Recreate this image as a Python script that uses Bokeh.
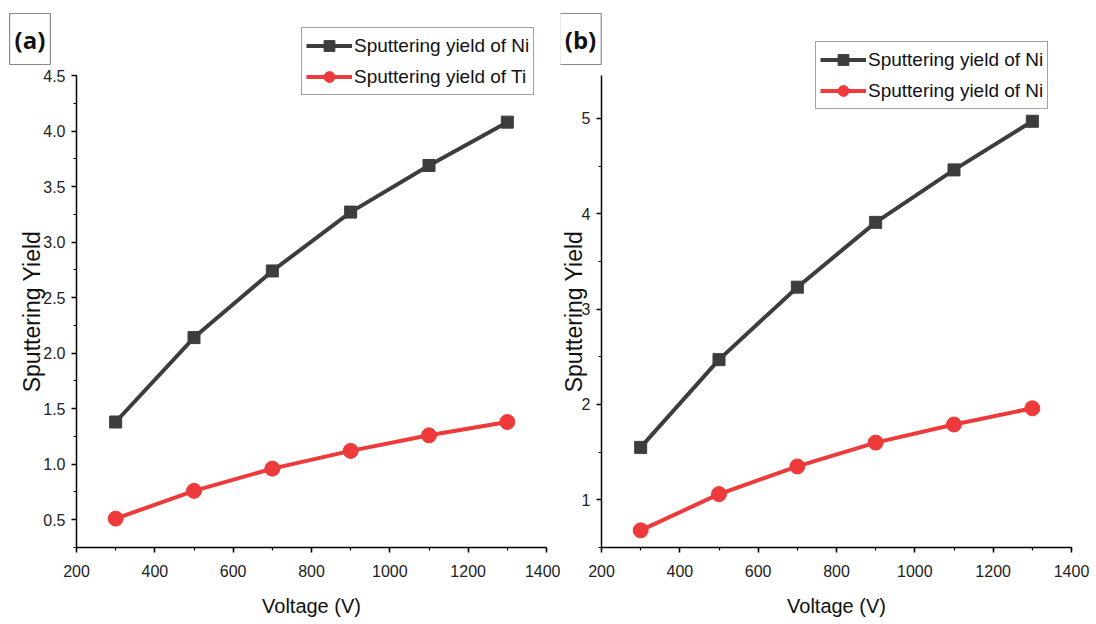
from bokeh.plotting import figure
from bokeh.layouts import row
from bokeh.models import (Range1d, SingleIntervalTicker, NumeralTickFormatter,
                          Legend, LegendItem, Label)
from bokeh.embed import file_html
from bokeh.resources import INLINE

# ---------------- data ----------------
voltage = [300, 500, 700, 900, 1100, 1300]
a_ni = [1.38, 2.14, 2.74, 3.27, 3.69, 4.08]
a_ti = [0.51, 0.76, 0.96, 1.12, 1.26, 1.38]
b_ni = [1.55, 2.47, 3.23, 3.91, 4.46, 4.97]
b_ni2 = [0.68, 1.06, 1.35, 1.60, 1.79, 1.96]
a_names = ["Sputtering yield of Ni", "Sputtering yield of Ti"]
b_names = ["Sputtering yield of Ni", "Sputtering yield of Ni"]
x_label = "Voltage (V)"
y_label = "Sputtering Yield"
x_axis_span = (200, 1400)
a_axis_span = (0.25, 4.5)
b_axis_span = (0.5, 5.45)

FONT = "Liberation Sans"
GRAY = "#3d3d3d"
RED = "#ee3a3a"
H = 624


def make_panel(width, frame_left, frame_right, frame_top, frame_bottom,
               yspan, y_interval, y_fmt, s1, s2, names, tag, tag_xy, leg_xy,
               ylab_standoff, ytick_standoff):
    # map so that the axis spans sit at the wanted pixel positions; frame = whole canvas
    x0, x1 = x_axis_span
    kx = (x1 - x0) / (frame_right - frame_left)
    xs = x0 - frame_left * kx
    xe = x1 + (width - frame_right) * kx
    y0, y1 = yspan
    ky = (y1 - y0) / (frame_bottom - frame_top)
    ys = y0 - (H - frame_bottom) * ky
    ye = y1 + frame_top * ky

    p = figure(width=width, height=H, output_backend="svg", toolbar_location=None,
               x_range=Range1d(xs, xe), y_range=Range1d(ys, ye),
               min_border_left=0, min_border_right=0,
               min_border_top=0, min_border_bottom=0)
    p.outline_line_color = None
    p.xgrid.visible = False
    p.ygrid.visible = False
    p.background_fill_color = "white"
    p.border_fill_color = "white"

    for ax in (p.xaxis[0], p.yaxis[0]):
        ax.axis_line_color = "black"
        ax.axis_line_width = 1.5
        ax.major_tick_line_color = "black"
        ax.major_tick_line_width = 1.5
        ax.minor_tick_line_color = "black"
        ax.minor_tick_line_width = 1.2
        ax.major_tick_in = 0
        ax.major_tick_out = 5
        ax.minor_tick_in = 0
        ax.minor_tick_out = 3
        ax.major_label_text_font = FONT
        ax.major_label_text_font_size = "16px"
        ax.major_label_text_color = "#222222"
        ax.axis_label_text_font = FONT
        ax.axis_label_text_font_style = "normal"
        ax.axis_label_text_color = "#111111"

    xa = p.xaxis[0]
    xa.ticker = SingleIntervalTicker(interval=200, num_minor_ticks=2)
    xa.bounds = x_axis_span
    xa.fixed_location = yspan[0]
    xa.axis_label = x_label
    xa.axis_label_text_font_size = "20px"
    xa.major_label_standoff = 12
    xa.axis_label_standoff = 15

    ya = p.yaxis[0]
    ya.ticker = SingleIntervalTicker(interval=y_interval, num_minor_ticks=2)
    ya.bounds = yspan
    ya.fixed_location = x_axis_span[0]
    if y_fmt:
        ya.formatter = NumeralTickFormatter(format=y_fmt)
    ya.axis_label = y_label
    ya.axis_label_text_font_size = "23px"
    ya.major_label_standoff = ytick_standoff
    ya.axis_label_standoff = ylab_standoff

    l1 = p.line(voltage, s1, line_color=GRAY, line_width=4)
    m1 = p.scatter(voltage, s1, marker="square", size=12, fill_color=GRAY, line_color=GRAY)
    l2 = p.line(voltage, s2, line_color=RED, line_width=4)
    m2 = p.scatter(voltage, s2, marker="circle", size=15, fill_color=RED, line_color=RED)

    legend = Legend(items=[LegendItem(label=names[0], renderers=[l1, m1]),
                           LegendItem(label=names[1], renderers=[l2, m2])],
                    location=leg_xy)
    legend.border_line_color = "#444444"
    legend.border_line_width = 1
    legend.background_fill_color = "white"
    legend.background_fill_alpha = 1
    legend.label_text_font = FONT
    legend.label_text_font_size = "19px"
    legend.label_text_color = "#111111"
    legend.glyph_width = 46
    legend.glyph_height = 27
    legend.label_height = 27
    legend.spacing = 4
    legend.padding = 4
    legend.margin = 0
    legend.label_standoff = 2
    p.add_layout(legend)

    tag_lbl = Label(x=tag_xy[0], y=tag_xy[1], x_units="screen", y_units="screen",
                    text=tag, text_font="Open Sans", text_font_style="bold",
                    text_font_size="24px", text_color="#111111", anchor="center",
                    padding=(5, 9), border_line_color="#8a8a8a", border_line_width=1.2,
                    background_fill_color="white")
    p.add_layout(tag_lbl)
    return p


pa = make_panel(560, 76, 546, 75, 547, a_axis_span, 0.5, "0.0", a_ni, a_ti, a_names,
                "(a)", (29.5, H - 38.5), (301, H - 95), -5, 6)
pb = make_panel(536, 41, 511, 75, 547, b_axis_span, 1, None, b_ni, b_ni2, b_names,
                "(b)", (20, H - 38.5), (255, H - 109), -8, 6)

layout = row(pa, pb)
open("out.html", "w").write(file_html(layout, INLINE))
